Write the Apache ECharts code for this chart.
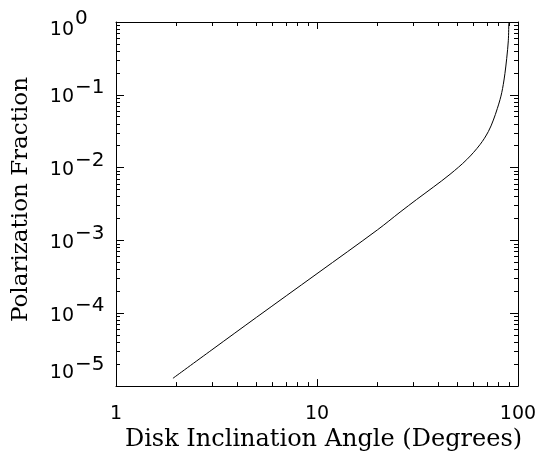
<!DOCTYPE html>
<html><head><meta charset="utf-8">
<script src="https://cdn.jsdelivr.net/npm/echarts@6/dist/echarts.min.js"></script>
<style>html,body{margin:0;padding:0;background:#fff}#c{width:549px;height:457px}</style>
</head><body><div id="c"></div>
<script>
// Data
const angles = [1.92, 3, 5, 10, 20, 25.9, 31.3, 37.9, 45.9, 55.6, 64.7, 71.2, 75.4, 78.9, 81.4, 83.0, 84.5, 86.1, 87.85, 89.5, 90];
const polarization = [1.28e-5, 3.15e-5, 8.8e-5, 3.5e-4, 1.40e-3, 2.45e-3, 3.65e-3, 5.4e-3, 8.1e-3, 1.29e-2, 2.07e-2, 3.13e-2, 4.50e-2, 6.47e-2, 8.6e-2, 0.107, 0.139, 0.196, 0.315, 0.552, 0.97];

const xMajorTicks = [1, 10, 100];
const xTickLabels = ['1', '10', '100'];
const xMinorTicks = [2, 3, 4, 5, 6, 7, 8, 9, 20, 30, 40, 50, 60, 70, 80, 90];
const yMajorTicks = [1e-5, 1e-4, 1e-3, 1e-2, 1e-1, 1];
const yExponents = ['−5', '−4', '−3', '−2', '−1', '0'];
const yMinorMultipliers = [2, 3, 4, 5, 6, 7, 8, 9];
const yMinorTicks = [];
[1e-5, 1e-4, 1e-3, 1e-2, 1e-1].forEach(d => yMinorMultipliers.forEach(m => yMinorTicks.push(+(m * d).toPrecision(3))));

const seriesData = angles.map((a, i) => [a, polarization[i]]);

const black = '#000';
const labelFont = 'DejaVu Sans';
const titleFont = 'DejaVu Serif';
const idx = (arr, v) => arr.findIndex(t => Math.abs(t - v) / t < 1e-6);

function xAxisDef(pos, ticks, len, showLine) {
  return {
    type: 'log', logBase: 10, min: 1, max: 100, position: pos, gridIndex: 0,
    axisLine: { show: showLine, lineStyle: { color: black, width: 1 } },
    axisTick: { show: true, inside: true, length: len, customValues: ticks, lineStyle: { color: black, width: 1 } },
    axisLabel: { show: false },
    splitLine: { show: false }, minorTick: { show: false }, minorSplitLine: { show: false }
  };
}
function yAxisDef(pos, ticks, len, showLine) {
  return {
    type: 'log', logBase: 10, min: 1e-5, max: 1, position: pos, gridIndex: 0,
    axisLine: { show: showLine, lineStyle: { color: black, width: 1 } },
    axisTick: { show: !!ticks, inside: true, length: len, customValues: ticks || [1], lineStyle: { color: black, width: 1 } },
    axisLabel: { show: false },
    splitLine: { show: false }, minorTick: { show: false }, minorSplitLine: { show: false }
  };
}
// y label helper: "10" part (base) or exponent part on its own axis.
// shift > 0 moves the text down, < 0 up (done with an empty extra line).
function addLabels(axis, values, part, shift) {
  const lh = Math.max(1, Math.abs(shift) * 2);
  axis.axisLabel = {
    show: true, customValues: values,
    align: part === 'base' ? 'right' : 'left',
    margin: part === 'base' ? 42 : 41,
    verticalAlign: 'middle',
    lineHeight: lh,
    fontFamily: labelFont, fontSize: part === 'base' ? 19 : 20, color: black,
    formatter: v => {
      const t = part === 'base' ? '10' : yExponents[idx(yMajorTicks, v)];
      return shift > 0 ? ' \n' + t : t + '\n ';
    }
  };
  return axis;
}

const xMain = xAxisDef('bottom', xMajorTicks, 7, true);
xMain.axisLabel = {
  show: true, customValues: xMajorTicks, margin: 18,
  fontFamily: labelFont, fontSize: 19, color: black,
  formatter: v => xTickLabels[idx(xMajorTicks, v)]
};
xMain.name = 'Disk Inclination Angle (Degrees)';
xMain.nameLocation = 'middle';
xMain.nameGap = 40;
xMain.nameTextStyle = { fontFamily: titleFont, fontSize: 24, color: black, padding: [0, 0, 0, 13] };

const midVals = [1e-4, 1e-3, 1e-2, 1e-1];
const yMain = addLabels(yAxisDef('left', yMajorTicks, 8, true), midVals, 'base', 2.5);
yMain.name = 'Polarization Fraction';
yMain.nameLocation = 'middle';
yMain.nameRotate = 90;
yMain.nameGap = 83;
yMain.nameTextStyle = { fontFamily: titleFont, fontSize: 23, color: black, padding: [0, 0, 0, 9] };

const option = {
  animation: false,
  backgroundColor: '#fff',
  grid: { left: 116, right: 31, top: 22, bottom: 65, containLabel: false },
  xAxis: [
    xMain,
    xAxisDef('bottom', xMinorTicks, 4, false),
    xAxisDef('top', xMajorTicks, 7, true),
    xAxisDef('top', xMinorTicks, 4, false)
  ],
  yAxis: [
    yMain,
    addLabels(yAxisDef('left', yMinorTicks, 4, false), midVals, 'exp', -7),
    addLabels(yAxisDef('left', null, 0, false), [1e-5], 'base', -13),
    addLabels(yAxisDef('left', null, 0, false), [1e-5], 'exp', -21),
    addLabels(yAxisDef('left', null, 0, false), [1], 'base', 8),
    addLabels(yAxisDef('left', null, 0, false), [1], 'exp', -3),
    yAxisDef('right', yMajorTicks, 8, true),
    yAxisDef('right', yMinorTicks, 4, false)
  ],
  series: [{
    type: 'line', xAxisIndex: 0, yAxisIndex: 0, data: seriesData,
    showSymbol: false, smooth: 0.35,
    lineStyle: { color: black, width: 1 }
  }]
};
const chart = echarts.init(document.getElementById('c'), null, { renderer: 'canvas' });
chart.setOption(option);
</script></body></html>
